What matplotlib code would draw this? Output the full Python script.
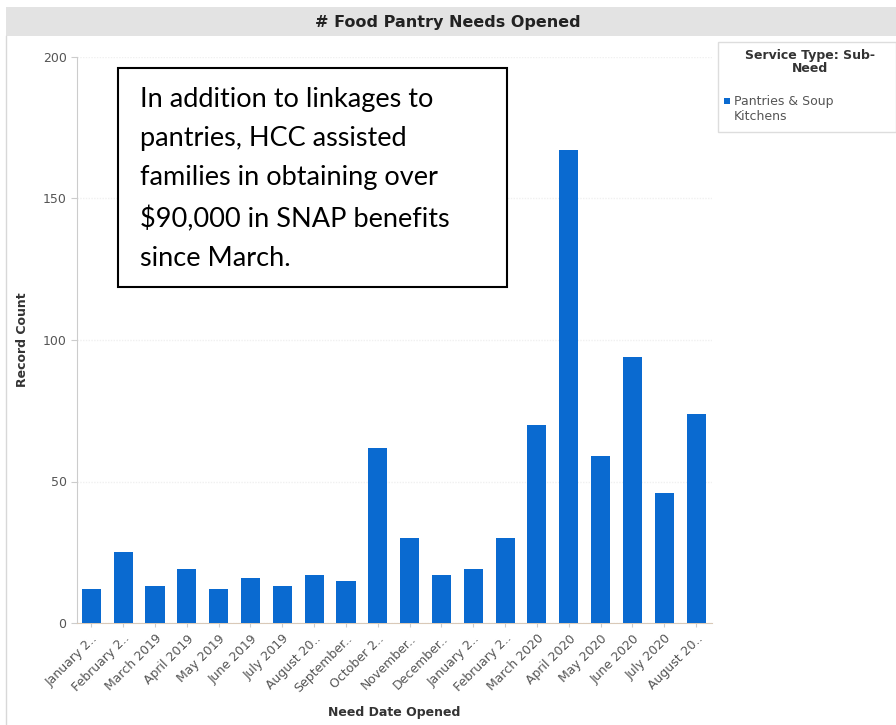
import matplotlib
matplotlib.use("Agg")
import matplotlib.pyplot as plt
from matplotlib.patches import Rectangle

# monthly counts of food pantry needs opened
months = [
    "January 2..", "February 2..", "March 2019", "April 2019", "May 2019",
    "June 2019", "July 2019", "August 20..", "September..", "October 2..",
    "November..", "December..", "January 2..", "February 2..", "March 2020",
    "April 2020", "May 2020", "June 2020", "July 2020", "August 20..",
]
record_count = [12, 25, 13, 19, 12, 16, 13, 17, 15, 62,
                30, 17, 19, 30, 70, 167, 59, 94, 46, 74]
y_ticks = [0, 50, 100, 150, 200]
series_name = "Pantries & Soup\nKitchens"
legend_title = "Service Type: Sub-\nNeed"
note = ("In addition to linkages to\npantries, HCC assisted\n"
        "families in obtaining over\n$90,000 in SNAP benefits\nsince March.")

BLUE = "#0a6ad0"
GREY_TXT = "#555555"

W, H = 896, 725
fig = plt.figure(figsize=(W / 100, H / 100), dpi=100)
fig.patch.set_facecolor("white")


def fx(px):
    return px / W


def fy(py):
    return 1 - py / H


# header band and outer frame
fig.patches.append(Rectangle((fx(6), fy(36)), fx(890), 29 / H, transform=fig.transFigure,
                             facecolor="#e3e3e3", edgecolor="none", zorder=0))
fig.add_artist(plt.Line2D([fx(6), fx(6)], [fy(36), fy(725)], color="#d8d8d8", lw=1))
fig.text(0.5, fy(22), "# Food Pantry Needs Opened", ha="center", va="center",
         fontsize=11.5, fontweight="bold", color="#222222")

ax = fig.add_axes([fx(77), fy(623), fx(712 - 77), (623 - 57) / H])
x = list(range(len(months)))
ax.bar(x, record_count, width=0.6, color=BLUE, zorder=3)
ax.set_xlim(-0.45, len(months) - 0.5)
ax.set_ylim(0, 200)
ax.set_yticks(y_ticks)
ax.set_xticks(x)
ax.set_xticklabels(months, rotation=45, ha="right", rotation_mode="anchor",
                   fontsize=9, color=GREY_TXT)
ax.tick_params(axis="y", labelsize=9, labelcolor=GREY_TXT, color="#cccccc", length=4)
ax.tick_params(axis="x", color="#cccccc", length=3)
for s in ["top", "right"]:
    ax.spines[s].set_visible(False)
ax.spines["left"].set_color("#cccccc")
ax.spines["bottom"].set_color("#d9c9b8")
ax.yaxis.grid(True, color="#f0f0f0", lw=1, ls=(0, (1, 1)), zorder=0)
ax.set_xlabel("Need Date Opened", fontsize=9, fontweight="bold", color="#333333", labelpad=8)
ax.set_ylabel("Record Count", fontsize=9, fontweight="bold", color="#333333", labelpad=10)

# legend panel
fig.patches.append(Rectangle((fx(718), fy(132)), fx(178), (132 - 42) / H,
                             transform=fig.transFigure, facecolor="white",
                             edgecolor="#dddddd", lw=1))
fig.text(fx(810), fy(62), legend_title, ha="center", va="center", fontsize=9,
         fontweight="bold", color="#333333", linespacing=1.1)
fig.patches.append(Rectangle((fx(724), fy(104)), 6 / W, 6 / H, transform=fig.transFigure,
                             facecolor=BLUE, edgecolor="none"))
fig.text(fx(734), fy(109), series_name, ha="left", va="center", fontsize=9,
         color=GREY_TXT, linespacing=1.15)

# callout box
fig.patches.append(Rectangle((fx(118), fy(287)), fx(507 - 118), (287 - 68) / H,
                             transform=fig.transFigure, facecolor="white",
                             edgecolor="black", lw=1.5, zorder=5))
fig.text(fx(140), fy(179), note, ha="left", va="center", fontsize=19.5,
         family="Lato", color="black", linespacing=1.72, zorder=6)

fig.savefig("out.png", dpi=100)
